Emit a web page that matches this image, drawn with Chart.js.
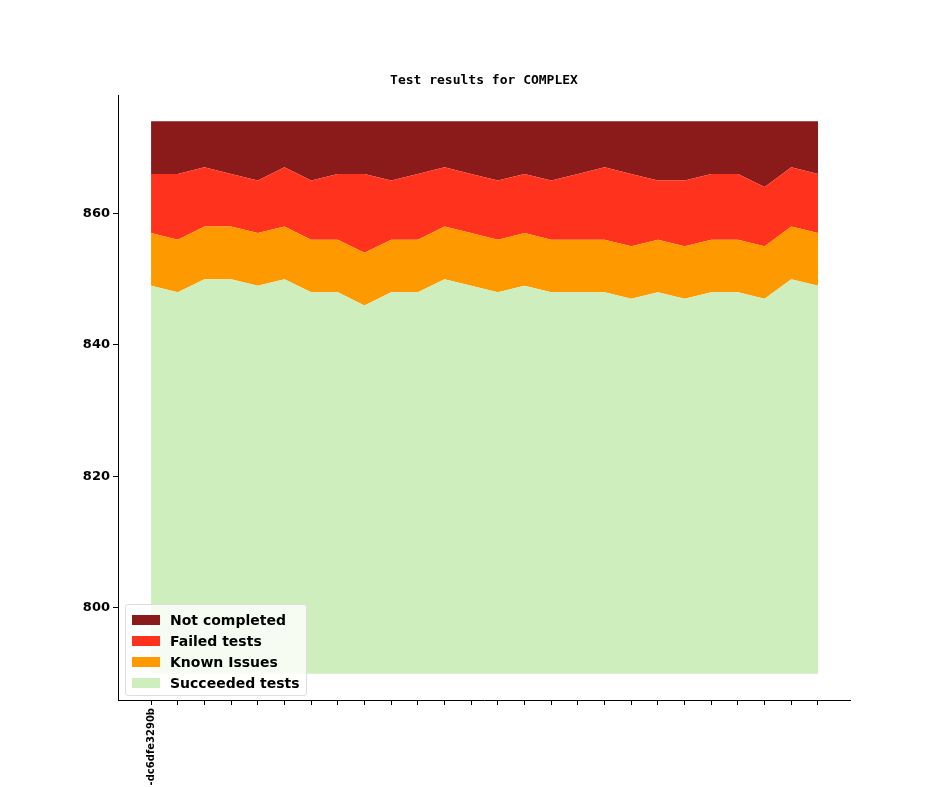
<!DOCTYPE html>
<html>
<head>
<meta charset="utf-8">
<script src="https://cdn.jsdelivr.net/npm/chart.js@4/dist/chart.umd.min.js"></script>
<style>
  body { margin: 0; background: #fff; }
  #wrap { position: relative; width: 944px; height: 787px; }
  #legend { position: absolute; left: 125px; top: 604px; background: rgba(255,255,255,0.8);
    border: 1px solid #ddd; border-radius: 3px; padding: 4px 6px 2px 6px;
    font: bold 14px "DejaVu Sans", sans-serif; }
  #legend div { height: 21px; display: flex; align-items: center; }
  #legend span { display: inline-block; width: 28px; height: 10px; margin-right: 10px; }
</style>
</head>
<body>
<div id="wrap">
  <canvas id="myChart" width="944" height="787"></canvas>
  <div id="legend"></div>
</div>
<script>
var title = "Test results for COMPLEX";
var firstLabel = "-dc6dfe3290b";
var baseline = 790;
var total = 874;
var succeeded = [849, 848, 850, 850, 849, 850, 848, 848, 846, 848, 848, 850, 849, 848, 849, 848, 848, 848, 847, 848, 847, 848, 848, 847, 850, 849];
var knownIssues = [8, 8, 8, 8, 8, 8, 8, 8, 8, 8, 8, 8, 8, 8, 8, 8, 8, 8, 8, 8, 8, 8, 8, 8, 8, 8];
var failedTests = [9, 10, 9, 8, 8, 9, 9, 10, 12, 9, 10, 9, 9, 9, 9, 9, 10, 11, 11, 9, 10, 10, 10, 9, 9, 9];
var yTicks = [800, 820, 840, 860];

var n = succeeded.length;
var labels = [];
var sTop = [], kTop = [], fTop = [], nTop = [];
for (var i = 0; i < n; i++) {
    labels.push(i);
    sTop.push({ x: i, y: succeeded[i] });
    kTop.push({ x: i, y: succeeded[i] + knownIssues[i] });
    fTop.push({ x: i, y: succeeded[i] + knownIssues[i] + failedTests[i] });
    nTop.push({ x: i, y: total });
}

var series = [
    { label: "Succeeded tests", data: sTop, color: "#cfeebd", fill: { value: baseline } },
    { label: "Known Issues", data: kTop, color: "#ff9900", fill: "-1" },
    { label: "Failed tests", data: fTop, color: "#ff321e", fill: "-1" },
    { label: "Not completed", data: nTop, color: "#8b1a1a", fill: "-1" }
];

var legend = document.getElementById("legend");
series.slice().reverse().forEach(function (s) {
    var d = document.createElement("div");
    d.innerHTML = '<span style="background:' + s.color + '"></span>' + s.label;
    legend.appendChild(d);
});

var titlePlugin = {
    id: "titlePlugin",
    afterDraw: function (chart) {
        var ctx = chart.ctx;
        ctx.save();
        ctx.font = "bold 13px 'DejaVu Sans Mono', monospace";
        ctx.fillStyle = "#000";
        ctx.textAlign = "center";
        ctx.textBaseline = "bottom";
        ctx.fillText(title, (chart.chartArea.left + chart.chartArea.right) / 2, 87);
        ctx.restore();
    }
};

new Chart("myChart", {
    type: "line",
    data: {
        datasets: series.map(function (s) {
            return {
                label: s.label, data: s.data, fill: s.fill,
                backgroundColor: s.color, borderColor: s.color, borderWidth: 0,
                pointRadius: 0, tension: 0
            };
        })
    },
    plugins: [titlePlugin],
    options: {
        responsive: false,
        animation: false,
        layout: { padding: { top: 95, right: 94, left: 0, bottom: 0 } },
        plugins: { legend: { display: false }, tooltip: { enabled: false } },
        scales: {
            x: {
                type: "linear", min: -1.24, max: 26.2,
                afterBuildTicks: function (s) { s.ticks = labels.map(function (v) { return { value: v }; }); },
                afterFit: function (s) { s.height = 87; },
                ticks: {
                    autoSkip: false, maxRotation: 90, minRotation: 90, color: "#000",
                    font: { family: "DejaVu Sans", size: 10, weight: "bold" },
                    callback: function (v) { return v === 0 ? firstLabel : ""; }
                },
                grid: { drawOnChartArea: false, tickLength: 5, color: "#000" },
                border: { color: "#000" }
            },
            y: {
                min: 786, max: 878,
                afterBuildTicks: function (s) { s.ticks = yTicks.map(function (v) { return { value: v }; }); },
                afterFit: function (s) { s.width = 118; },
                ticks: { color: "#000", font: { family: "DejaVu Sans", size: 13, weight: "bold" } },
                grid: { drawOnChartArea: false, tickLength: 5, color: "#000" },
                border: { color: "#000" }
            }
        }
    }
});
</script>
</body>
</html>
